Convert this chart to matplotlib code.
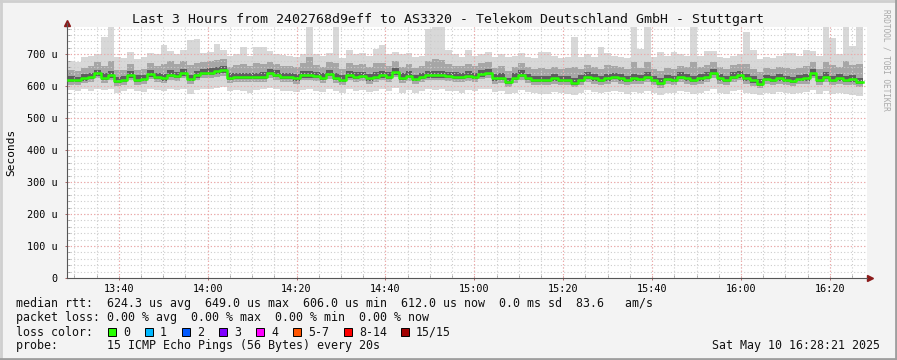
import numpy as np
import matplotlib
matplotlib.use('Agg')
import matplotlib.pyplot as plt
from matplotlib.lines import Line2D
from matplotlib.patches import Rectangle

# smokeping style latency graph, values in microseconds
title = 'Last 3 Hours from 2402768d9eff to AS3320 - Telekom Deutschland GmbH - Stuttgart'
start_min = 13 * 60 + 28 + 21 / 60  # 13:28:21
step_min = 1.49

med = [619, 619, 624, 629, 640, 626, 634, 617, 619, 634,
       620, 622, 637, 629, 624, 636, 632, 640, 622, 634,
       641, 642, 646, 649, 626, 629, 628, 628, 628, 629,
       641, 636, 629, 628, 624, 634, 634, 631, 626, 638,
       627, 620, 634, 630, 631, 624, 630, 634, 630, 644,
       626, 632, 622, 628, 634, 634, 634, 631, 629, 629,
       632, 629, 637, 641, 624, 626, 612, 626, 636, 625,
       620, 619, 619, 624, 619, 619, 611, 620, 630, 624,
       619, 624, 629, 624, 619, 624, 622, 630, 619, 610,
       622, 619, 629, 624, 619, 624, 630, 641, 624, 619,
       629, 634, 624, 618, 608, 622, 619, 624, 619, 617,
       622, 624, 640, 619, 629, 619, 624, 619, 621, 612]

hi3 = [632, 630, 638, 642, 652, 640, 648, 630, 633, 646,
       634, 636, 650, 642, 637, 650, 645, 653, 636, 648,
       654, 656, 660, 662, 640, 642, 641, 642, 640, 643,
       655, 649, 642, 641, 638, 648, 648, 644, 640, 652,
       641, 634, 648, 643, 645, 637, 644, 648, 644, 657,
       640, 646, 636, 641, 648, 648, 648, 645, 643, 642,
       646, 642, 650, 654, 637, 640, 626, 640, 650, 638,
       633, 632, 633, 638, 632, 633, 625, 634, 644, 637,
       632, 638, 642, 637, 633, 638, 636, 644, 632, 624,
       636, 632, 643, 637, 633, 638, 644, 655, 637, 632,
       643, 648, 637, 632, 622, 636, 632, 638, 633, 630,
       636, 638, 654, 633, 643, 632, 638, 633, 635, 626]

hi2 = [650, 648, 658, 662, 675, 662, 678, 650, 652, 670,
       652, 655, 672, 662, 668, 678, 668, 678, 665, 672,
       675, 678, 682, 684, 660, 665, 668, 662, 672, 668,
       676, 670, 664, 662, 660, 672, 690, 666, 660, 674,
       672, 654, 672, 666, 668, 660, 672, 672, 664, 678,
       660, 668, 656, 662, 680, 685, 682, 668, 664, 662,
       670, 662, 672, 676, 658, 662, 648, 660, 672, 660,
       655, 656, 655, 660, 655, 656, 660, 655, 665, 660,
       655, 665, 664, 660, 655, 675, 658, 675, 655, 648,
       658, 655, 664, 660, 675, 660, 665, 676, 660, 655,
       665, 668, 670, 654, 645, 658, 655, 660, 658, 654,
       658, 664, 676, 655, 675, 665, 660, 680, 665, 670]

hi1 = [680, 675, 690, 695, 700, 755, 785, 690, 688, 706,
       685, 690, 705, 700, 728, 710, 700, 712, 744, 747,
       705, 708, 731, 712, 695, 700, 722, 695, 722, 722,
       710, 700, 698, 695, 690, 700, 785, 700, 695, 705,
       785, 688, 712, 700, 705, 695, 715, 728, 700, 708,
       700, 705, 690, 695, 780, 785, 785, 712, 700, 692,
       712, 695, 700, 708, 690, 700, 690, 695, 703, 690,
       688, 706, 706, 695, 688, 690, 753, 690, 700, 692,
       722, 705, 695, 690, 688, 785, 715, 785, 690, 706,
       695, 706, 700, 695, 785, 695, 710, 710, 690, 688,
       695, 700, 769, 712, 685, 690, 688, 695, 705, 705,
       695, 712, 710, 695, 785, 750, 700, 785, 725, 785]

lo3 = [613, 612, 617, 622, 632, 620, 627, 611, 612, 627,
       613, 615, 630, 622, 617, 629, 625, 633, 615, 627,
       634, 635, 639, 641, 619, 622, 621, 621, 621, 622,
       634, 629, 622, 621, 617, 627, 627, 624, 619, 631,
       620, 613, 627, 623, 624, 617, 623, 627, 623, 636,
       619, 625, 615, 621, 627, 627, 627, 624, 622, 622,
       625, 622, 630, 634, 617, 619, 606, 619, 629, 618,
       613, 612, 612, 617, 612, 612, 605, 613, 623, 617,
       612, 617, 622, 617, 612, 617, 615, 623, 612, 604,
       615, 612, 622, 617, 612, 617, 623, 634, 617, 612,
       622, 627, 617, 611, 602, 615, 612, 617, 612, 610,
       615, 617, 633, 612, 622, 612, 617, 612, 614, 606]

lo2 = [604, 603, 609, 613, 624, 611, 618, 602, 604, 618,
       604, 607, 621, 613, 609, 620, 616, 624, 606, 618,
       626, 626, 630, 633, 611, 613, 612, 612, 612, 614,
       625, 620, 614, 612, 608, 618, 618, 616, 610, 622,
       611, 604, 618, 614, 616, 608, 614, 618, 614, 628,
       610, 616, 606, 612, 618, 618, 618, 616, 613, 613,
       616, 613, 621, 625, 608, 610, 597, 610, 620, 609,
       604, 603, 603, 608, 603, 603, 596, 604, 614, 608,
       603, 608, 613, 608, 603, 608, 606, 614, 603, 595,
       606, 603, 613, 608, 603, 608, 614, 625, 608, 603,
       613, 618, 608, 602, 593, 606, 603, 608, 603, 601,
       606, 608, 624, 603, 613, 603, 608, 603, 605, 597]

lo1 = [588, 585, 590, 586, 592, 588, 590, 580, 584, 590,
       585, 582, 592, 588, 585, 590, 588, 592, 575, 588,
       592, 590, 595, 598, 585, 588, 586, 580, 588, 590,
       595, 590, 585, 586, 582, 588, 590, 586, 582, 592,
       586, 580, 590, 585, 588, 582, 586, 590, 586, 594,
       580, 588, 578, 584, 590, 588, 590, 586, 585, 580,
       588, 584, 590, 592, 582, 584, 576, 580, 588, 582,
       580, 576, 575, 582, 578, 576, 572, 578, 588, 582,
       578, 582, 585, 582, 576, 582, 580, 586, 578, 572,
       580, 578, 585, 582, 576, 580, 586, 592, 580, 576,
       585, 588, 580, 576, 572, 578, 574, 582, 578, 575,
       580, 582, 588, 576, 584, 575, 580, 576, 572, 570]

x_labels = ['13:40', '14:00', '14:20', '14:40', '15:00', '15:20', '15:40', '16:00', '16:20']
y_ticks = [0, 100, 200, 300, 400, 500, 600, 700]

legend_lines = [
    'median rtt:  624.3 us avg  649.0 us max  606.0 us min  612.0 us now  0.0 ms sd  83.6   am/s',
    'packet loss: 0.00 % avg  0.00 % max  0.00 % min  0.00 % now',
    'loss color:',
    'probe:       15 ICMP Echo Pings (56 Bytes) every 20s',
]
loss_labels = ['0', '1', '2', '3', '4', '5-7', '8-14', '15/15']
loss_colors = ['#26ff00', '#00b8ff', '#0059ff', '#7e00ff', '#ff00ff', '#ff5500', '#ff0000', '#a10000']
stamp = 'Sat May 10 16:28:21 2025'

mono = 'DejaVu Sans Mono'
plt.rcParams['font.family'] = mono

W, H = 897, 360
fig = plt.figure(figsize=(W / 100, H / 100), dpi=100, facecolor='#f3f3f3')
ax = fig.add_axes([67 / W, 1 - 278 / H, 800 / W, 251 / H])
ax.set_facecolor('white')

tt = np.arange(len(med) + 1) * step_min + 0.2


def ext(a):
    return np.append(a, a[-1])


ax.fill_between(tt, ext(lo1), ext(hi1), step='post', color='#d8d8d8', lw=0, zorder=1)
ax.fill_between(tt, ext(lo2), ext(hi2), step='post', color='#a6a6a6', lw=0, zorder=1.1)
ax.fill_between(tt, ext(lo3), ext(hi3), step='post', color='#5e5e5e', lw=0, zorder=1.2)
ax.step(tt, ext(med), where='post', color='#26ff00', lw=1.8, zorder=3)

ax.set_xlim(0, 180)
ax.set_ylim(0, 785)

# grid: minor grey, major red, drawn on top of the smoke
xpos = [int(s[:2]) * 60 + int(s[3:]) - start_min for s in x_labels]
minor_x = np.arange(13 * 60 + 30, 16 * 60 + 30, 5) - start_min
ax.set_xticks(xpos)
ax.set_xticklabels(x_labels)
ax.set_xticks(minor_x, minor=True)
ax.set_yticks(y_ticks)
ax.set_yticklabels(['0' if v == 0 else '%d u' % v for v in y_ticks])
ax.set_yticks(np.arange(0, 785, 20), minor=True)

for v in minor_x:
    ax.axvline(v, color='#cccccc', lw=0.8, ls=(0, (1, 2)), zorder=2)
for v in np.arange(20, 785, 20):
    ax.axhline(v, color='#cccccc', lw=0.8, ls=(0, (1, 2)), zorder=2)
for v in xpos:
    ax.axvline(v, color='#f4a4a4', lw=0.8, ls=(0, (1, 2)), zorder=2.1)
for v in y_ticks[1:]:
    ax.axhline(v, color='#f4a4a4', lw=0.8, ls=(0, (1, 2)), zorder=2.1)

ax.tick_params(axis='both', which='major', labelsize=7.3, length=3, width=0.6,
               color='#a05050', direction='inout', pad=3)
ax.tick_params(axis='both', which='minor', length=2, width=0.5, color='#808080', direction='in')
ax.tick_params(axis='y', pad=5)
for sp in ['top', 'right']:
    ax.spines[sp].set_visible(False)
for sp in ['left', 'bottom']:
    ax.spines[sp].set_color('#555555')
    ax.spines[sp].set_linewidth(0.8)

# axis arrow heads
ax.plot([0], [1.015], marker='^', color='#8b1a1a', ms=4, transform=ax.transAxes, clip_on=False)
ax.plot([1.004], [0], marker='>', color='#8b1a1a', ms=4, transform=ax.transAxes, clip_on=False)
ax.plot([0, 0], [1.0, 1.015], color='#555555', lw=0.8, transform=ax.transAxes, clip_on=False)

fig.text(448 / W, 1 - 19 / H, title, ha='center', va='center', fontsize=9.5, color='#111111')
fig.text(11 / W, 1 - 152 / H, 'Seconds', rotation=90, ha='center', va='center', fontsize=8)
fig.text(886 / W, 1 - 60 / H, 'RRDTOOL / TOBI OETIKER', rotation=270, ha='center', va='center',
         fontsize=5.6, color='#a8a8a8')

ys = [304, 318, 332, 346]
for s, y in zip(legend_lines, ys):
    fig.text(16 / W, 1 - y / H, s, ha='left', va='center', fontsize=8.4, color='#111111')

box_x = [108, 145, 182, 219, 256, 293, 344, 401]
for bx, lab, c in zip(box_x, loss_labels, loss_colors):
    fig.add_artist(Rectangle((bx / W, 1 - 336 / H), 8 / W, 8 / H, transform=fig.transFigure,
                             facecolor=c, edgecolor='black', lw=0.7))
    fig.text((bx + 15) / W, 1 - 332 / H, lab, ha='left', va='center', fontsize=8.4, color='#111111')

fig.text(880 / W, 1 - 346 / H, stamp, ha='right', va='center', fontsize=8.4, color='#111111')

# 3d-ish frame around the image
fig.add_artist(Line2D([0, 1], [1 - 1 / H, 1 - 1 / H], transform=fig.transFigure, color='#cfcfcf', lw=2))
fig.add_artist(Line2D([1 / W, 1 / W], [0, 1], transform=fig.transFigure, color='#cfcfcf', lw=2))
fig.add_artist(Line2D([0, 1], [1 / H, 1 / H], transform=fig.transFigure, color='#9e9e9e', lw=2))
fig.add_artist(Line2D([1 - 1 / W, 1 - 1 / W], [0, 1], transform=fig.transFigure, color='#9e9e9e', lw=2))

fig.savefig('out.png', dpi=100, facecolor=fig.get_facecolor())
